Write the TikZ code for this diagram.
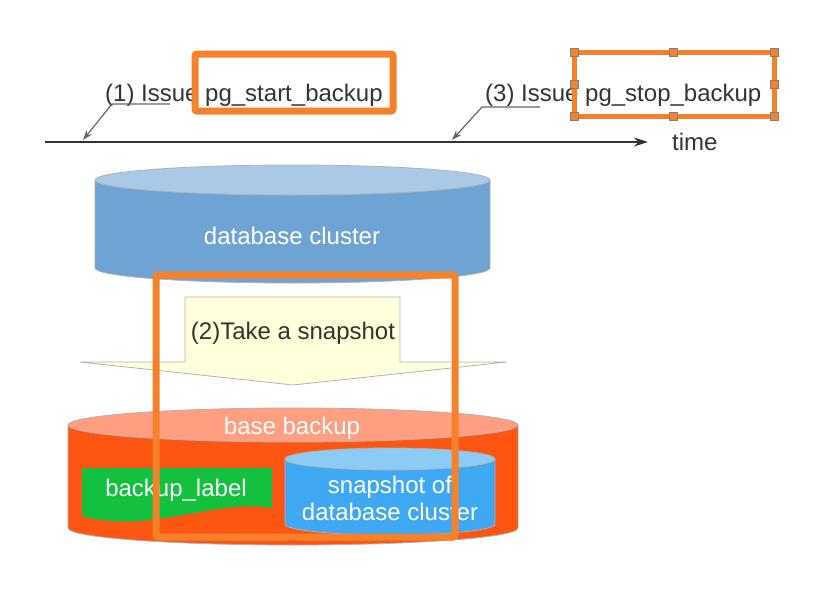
\documentclass[tikz,border=0pt]{standalone}
\usepackage{fontspec}
\setmainfont{Liberation Sans}
\usetikzlibrary{arrows.meta,positioning}
\definecolor{hilite}{HTML}{F5822A}
\definecolor{dbbody}{HTML}{6FA3D3}
\definecolor{dbtop}{HTML}{A9C9E7}
\definecolor{snapyellow}{HTML}{FFFFDC}
\definecolor{bbbody}{HTML}{FF5512}
\definecolor{bbtop}{HTML}{FF9E80}
\definecolor{lblgreen}{HTML}{12C23F}
\definecolor{cpbody}{HTML}{3EA8F2}
\definecolor{cptop}{HTML}{8DCBF7}
\definecolor{inktext}{HTML}{333333}
\tikzset{
  txt/.style={font=\fontsize{24}{27}\selectfont, text=inktext, inner sep=0pt},
  whitetxt/.style={txt, text=white, align=center},
  frame/.style={draw=hilite, line width=7pt, rounded corners=2pt},
  handle/.style={draw=gray, fill=hilite, minimum size=8pt, inner sep=0pt},
  timearr/.style={-{Stealth[length=14pt, width=9pt]}, line width=1.8pt, draw=inktext},
  leader/.style={-{Stealth[length=10pt, width=7pt]}, line width=1.2pt, draw=gray!80!black}
}
% drum: centre x, x radius, top y, bottom y, y radius, body colour, lid colour
\newcommand{\drum}[7]{%
  \fill[#6] (#1-#2,#3) -- (#1-#2,#4) arc[start angle=180, end angle=360, x radius=#2pt, y radius=#5pt] -- (#1+#2,#3) -- cycle;
  \draw[gray!60, line width=0.8pt] (#1-#2,#3) -- (#1-#2,#4) arc[start angle=180, end angle=360, x radius=#2pt, y radius=#5pt] -- (#1+#2,#3);
  \filldraw[fill=#7, draw=gray!60, line width=0.8pt] (#1,#3) ellipse[x radius=#2pt, y radius=#5pt];
}

\begin{document}
\begin{tikzpicture}[x=1pt, y=-1pt]
    \useasboundingbox (0,0) rectangle (831,590);
    % time line and the two calls
    \coordinate (t0) at (45,142);
    \coordinate (t1) at (648,142);
    \draw[timearr] (t0) -- (t1);
    \node[txt, anchor=base west] (time) at (672,150) {time};
    \node[txt, anchor=base west] (start) at (105,101) {(1) Issue pg\_start\_backup};
    \node[txt, anchor=base west] (stop) at (485,101) {(3) Issue pg\_stop\_backup};
    \coordinate (startend) at (170,104);
    \coordinate (startknee) at (112,104);
    \coordinate (startpt) at (83,140);
    \draw[leader] (startend) -- (startknee) -- (startpt);
    \coordinate (stopend) at (540,107);
    \coordinate (stopknee) at (482,107);
    \coordinate (stoppt) at (452,140);
    \draw[leader] (stopend) -- (stopknee) -- (stoppt);

    % database cluster
    \drum{292.5}{197.5}{180}{268}{15}{dbbody}{dbtop}
    \node[whitetxt] (db) at (292,236) {database cluster};

    % snapshot arrow
    \draw[gray!60, line width=0.8pt, fill=snapyellow] (185,297) -- (400,297) -- (400,362) -- (507,362)
      -- (293,385) -- (80,362) -- (185,362) -- cycle;
    \node[txt] (snap) at (293,333) {(2)Take a snapshot};

    % base backup
    \drum{293}{225}{425}{528}{17}{bbbody}{bbtop}
    \node[whitetxt] (bb) at (292,428) {base backup};
    \fill[lblgreen] (82,468) -- (272,468) -- (272,508) .. controls (215,498) and (150,535) .. (82,516) -- cycle;
    \node[whitetxt] (lbl) at (176,490) {backup\_label};
    \drum{390}{105}{459}{524}{11}{cpbody}{cptop}
    \node[whitetxt] (copy) at (390,498) {snapshot of\\database cluster};

    % highlight frames
    \draw[frame] (195,54) rectangle (393,111);
    \draw[frame, line width=5pt, rounded corners=0pt] (574,52) rectangle (774,116);
    \foreach \hx/\hy [count=\i] in {574/52, 673/52, 774/52, 574/84, 774/84, 574/116, 673/116, 774/116}
      \node[handle] (h\i) at (\hx,\hy) {};
    \draw[frame] (156,275) rectangle (455,537);
\end{tikzpicture}
\end{document}
